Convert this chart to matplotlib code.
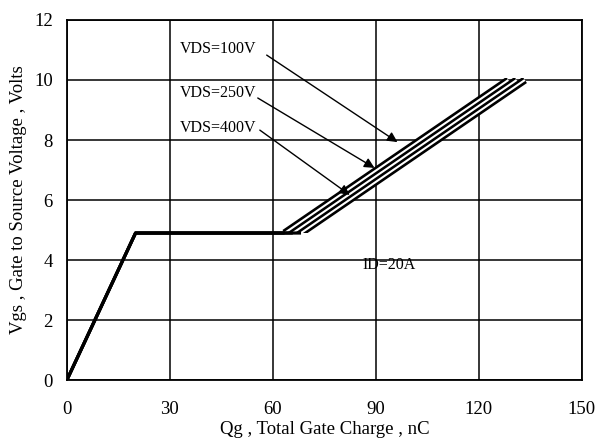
import matplotlib
matplotlib.use("Agg")
import matplotlib.pyplot as plt
from matplotlib.patches import Rectangle

plt.rcParams['font.family'] = ['Liberation Serif', 'DejaVu Serif']

# Data
qg_100 = [0, 20, 63.4, 128.6]
qg_250 = [0, 20, 65.8, 131.0]
qg_400 = [0, 20, 68.2, 133.4]
vgs = [0, 4.9, 4.9, 10]
labels = ["VDS=100V", "VDS=250V", "VDS=400V"]
label_pos = [(33, 11.03), (33, 9.57), (33, 8.40)]
arrow_start = [(58.2, 10.83), (55.6, 9.40), (56.2, 8.33)]
arrow_tip = [(96.3, 7.93), (89.6, 7.07), (82.4, 6.17)]
xticks = [0, 30, 60, 90, 120, 150]
yticks = [0, 2, 4, 6, 8, 10, 12]

fig = plt.figure(figsize=(6.08, 4.44), dpi=100)
ax = fig.add_axes([0.110, 0.144, 0.847, 0.811])
ax.set_xlim(0, 150)
ax.set_ylim(0, 12)
ax.set_xticks(xticks)
ax.set_yticks(yticks)
ax.tick_params(length=0, labelsize=13.5)
ax.tick_params(axis='x', pad=15)
ax.tick_params(axis='y', pad=10)
ax.grid(True, color='black', linewidth=1.1)
for s in ax.spines.values():
    s.set_linewidth(1.3)
    s.set_color('black')

curves = [qg_100, qg_250, qg_400]
clip = Rectangle((0, 4.9), 150, 5.17, transform=ax.transData)
# diagonal double lines: black first, then white cores
for qg in curves:
    l, = ax.plot(qg[2:], vgs[2:], color='black', lw=5.3, solid_capstyle='butt', zorder=3)
    l.set_clip_path(clip)
for qg in curves:
    l, = ax.plot(qg[2:], vgs[2:], color='white', lw=1.5, solid_capstyle='butt', zorder=4)
    l.set_clip_path(clip)
# shared ramp + plateau
for qg in curves:
    ax.plot(qg[:3], vgs[:3], color='black', lw=2.3, solid_capstyle='butt', zorder=5)

for lab, pos, st, tip in zip(labels, label_pos, arrow_start, arrow_tip):
    ax.text(pos[0], pos[1], lab, fontsize=11.5, va='center', ha='left', zorder=6,
            bbox=dict(facecolor='white', edgecolor='none', pad=0.5))
    ax.annotate("", xy=tip, xytext=st,
                arrowprops=dict(arrowstyle='-|>', color='black', lw=1.0,
                                mutation_scale=15, shrinkA=0, shrinkB=0),
                zorder=6)

ax.text(86.1, 3.83, "ID=20A", fontsize=11.5, va='center', ha='left', zorder=6)

ax.set_xlabel("Qg , Total Gate Charge , nC", fontsize=13.5, labelpad=2)
ax.set_ylabel("Vgs , Gate to Source Voltage , Volts", fontsize=13.5, labelpad=5)

fig.savefig("out.png", dpi=100)
